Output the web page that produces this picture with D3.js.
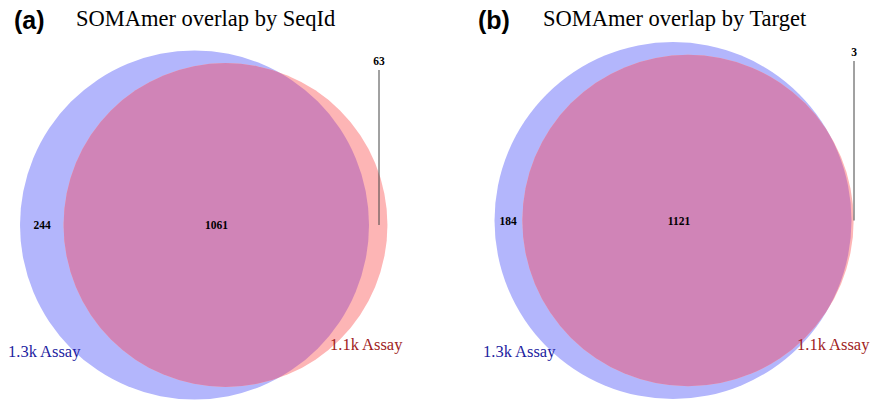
<!DOCTYPE html>
<html><head><meta charset="utf-8">
<script src="https://cdn.jsdelivr.net/npm/d3@7"></script>
<style>body{margin:0;background:#fff}</style></head>
<body><svg id="c" width="871" height="400"></svg>
<script>
const panels = ["(a)", "(b)"];
const titles = ["SOMAmer overlap by SeqId", "SOMAmer overlap by Target"];
const setNames = ["1.3k Assay", "1.1k Assay"];
const onlyA = [244, 184];
const both = [1061, 1121];
const onlyB = [63, 3];

const layout = [
  {cxA:194.5, cy:225, cxB:225.5, k:174.5, panelX:14, titleX:76, aLabX:8, bLabX:330, lab63X:379, lab63Y:65, onlyAX:42},
  {cxA:673, cy:220.5, cxB:688, k:178.5, panelX:478, titleX:543, aLabX:483, bLabX:797, lab63X:854, lab63Y:56, onlyAX:508}
];
const svg = d3.select("#c");
const defs = svg.append("defs");
panels.forEach((p, i) => {
  const L = layout[i];
  const totA = onlyA[i] + both[i], totB = onlyB[i] + both[i];
  const r = d3.scaleSqrt().domain([0, totA]).range([0, L.k]);
  const rA = r(totA), rB = r(totB);
  const g = svg.append("g");
  defs.append("clipPath").attr("id", "clipA" + i)
    .append("circle").attr("cx", L.cxA).attr("cy", L.cy).attr("r", rA);
  g.append("circle").attr("cx", L.cxA).attr("cy", L.cy).attr("r", rA).attr("fill", "#b3b6fc");
  g.append("circle").attr("cx", L.cxB).attr("cy", L.cy).attr("r", rB).attr("fill", "#fdb5b5");
  g.append("circle").attr("cx", L.cxB).attr("cy", L.cy).attr("r", rB).attr("fill", "#d084b7")
    .attr("clip-path", "url(#clipA" + i + ")");
  g.append("text").attr("x", L.panelX).attr("y", 29).text(p)
    .attr("font-family", "Liberation Sans, Arial").attr("font-weight", "bold").attr("font-size", 25);
  g.append("text").attr("x", L.titleX).attr("y", 26).text(titles[i])
    .attr("font-family", "Liberation Serif, Times").attr("font-size", 22.5);
  const num = (x, y, t) => g.append("text").attr("x", x).attr("y", y).text(t)
    .attr("text-anchor", "middle").attr("font-family", "Liberation Serif, Times")
    .attr("font-weight", "bold").attr("font-size", 11.5);
  num(L.onlyAX, L.cy + 4, onlyA[i]);
  num(L.cxB - 9, L.cy + 4, both[i]);
  num(L.lab63X, L.lab63Y, onlyB[i]);
  g.append("line").attr("x1", L.lab63X).attr("x2", L.lab63X).attr("y1", L.lab63Y + 5).attr("y2", L.cy)
    .attr("stroke", "#444").attr("stroke-width", 1);
  g.append("text").attr("x", L.aLabX).attr("y", 357).text(setNames[0])
    .attr("font-family", "Liberation Serif, Times").attr("font-size", 16.5).attr("fill", "#1c1ca0");
  g.append("text").attr("x", L.bLabX).attr("y", 350).text(setNames[1])
    .attr("font-family", "Liberation Serif, Times").attr("font-size", 16.5).attr("fill", "#a01c1c");
});
</script></body></html>
